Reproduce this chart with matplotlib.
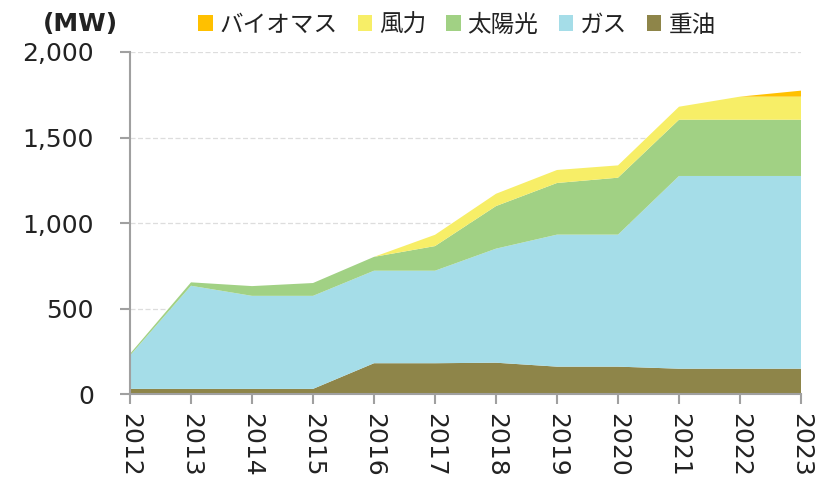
import matplotlib
matplotlib.use('Agg')
import matplotlib.pyplot as plt
from matplotlib.patches import Patch

# ---------------------------------------------------------------
# Datos (MW)
# ---------------------------------------------------------------
anios = [2012, 2013, 2014, 2015, 2016, 2017, 2018, 2019, 2020, 2021, 2022, 2023]
juyu = [30, 30, 30, 30, 180, 180, 183, 160, 160, 148, 148, 148]
gasu = [195, 603, 544, 544, 541, 541, 667, 772, 772, 1127, 1127, 1127]
taiyoko = [10, 20, 57, 75, 81, 144, 249, 302, 333, 329, 329, 329]
furyoku = [0, 0, 0, 0, 0, 66, 72, 76, 72, 76, 135, 135]
baiomasu = [0, 0, 0, 0, 0, 0, 0, 0, 0, 0, 0, 35]

series = ['重油', 'ガス', '太陽光', '風力', 'バイオマス']
colores = ['#8E8549', '#A5DDE8', '#A1D184', '#F7EE67', '#FFC000']

plt.rcParams['font.family'] = ['DejaVu Sans', 'Noto Sans CJK JP']

fig = plt.figure(figsize=(8.32, 4.79), dpi=100)
ax = fig.add_axes([130 / 832, (479 - 394) / 479, (801 - 130) / 832, (394 - 52) / 479])

ax.stackplot(anios, juyu, gasu, taiyoko, furyoku, baiomasu,
             colors=colores, linewidth=0, zorder=2)

ax.set_xlim(2012, 2023)
ax.set_ylim(0, 2000)
ax.set_yticks([0, 500, 1000, 1500, 2000])
ax.set_yticklabels([f'{v:,}' for v in [0, 500, 1000, 1500, 2000]])
ax.set_xticks(anios)
ax.set_xticklabels([str(a) for a in anios], rotation=-90)

ax.grid(axis='y', color='#DDDDDD', linestyle=(0, (4, 2)), linewidth=0.9, zorder=1)
ax.set_axisbelow(True)

for lado in ['top', 'right']:
    ax.spines[lado].set_visible(False)
for lado in ['left', 'bottom']:
    ax.spines[lado].set_color('#A0A0A0')
    ax.spines[lado].set_linewidth(1.5)
    ax.spines[lado].set_zorder(3)

ax.tick_params(axis='both', colors='#A0A0A0', length=7, width=1.5,
               labelsize=18, labelcolor='#222222')
ax.tick_params(axis='y', pad=19)
ax.tick_params(axis='x', pad=6.5)

# Unidad
fig.text(43 / 832, 1 - 24 / 479, '(MW)', fontsize=18, fontweight='bold',
         family=['DejaVu Sans'], color='#222222', ha='left', va='center')

# Leyenda
handles = [Patch(facecolor=c, edgecolor='none') for c in reversed(colores)]
etiquetas = list(reversed(series))
ley = fig.legend(handles, etiquetas, loc='center', bbox_to_anchor=(457 / 832, 1 - 25 / 479),
                 ncol=5, frameon=False, handlelength=0.6, handleheight=0.68,
                 handletextpad=0.3, columnspacing=0.85, borderpad=0,
                 prop={'family': ['Noto Sans CJK JP', 'DejaVu Sans'], 'size': 17})
for t in ley.get_texts():
    t.set_color('#222222')

fig.savefig('out.png', dpi=100)
